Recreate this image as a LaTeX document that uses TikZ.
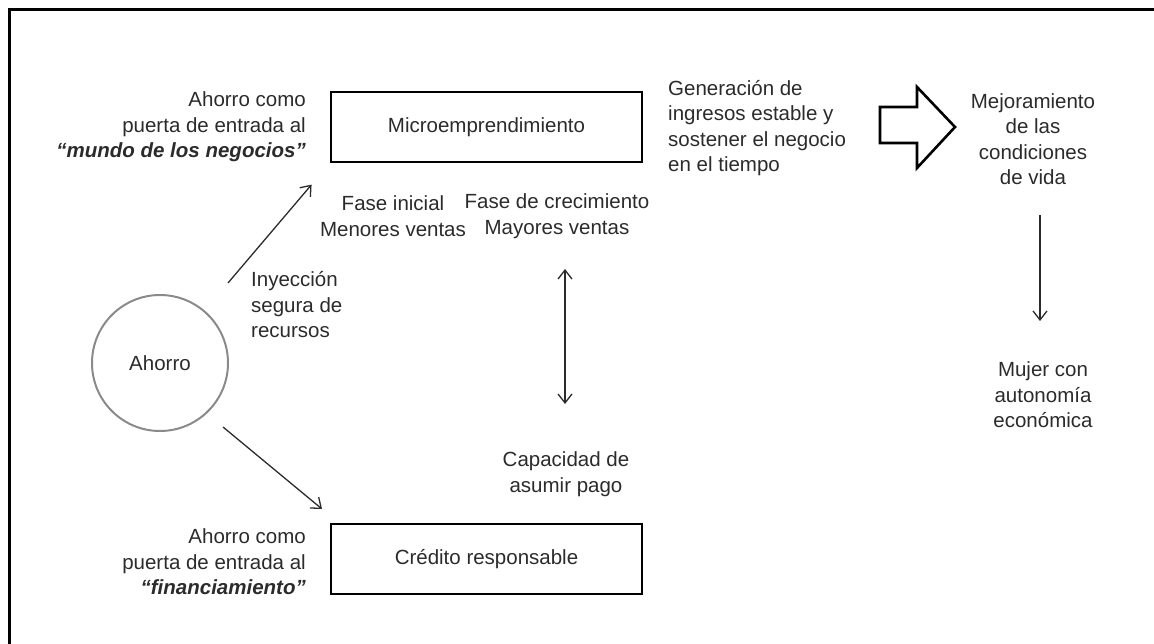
\documentclass[tikz,border=0pt]{standalone}
\usepackage{fontspec}
\setmainfont{Liberation Sans}
\usetikzlibrary{arrows.meta}
\definecolor{txt}{HTML}{2B2B2B}
\definecolor{circ}{HTML}{8A8A8A}
\tikzset{
  lbl/.style={inner sep=0pt, text=txt, font=\fontsize{20.5}{25.5}\selectfont},
  boxnode/.style={draw=black, line width=2.6pt, minimum width=311pt, minimum height=70pt, inner sep=0pt, text=txt, font=\fontsize{20.5}{25.5}\selectfont},
  arr/.style={line width=1.3pt, draw=txt, -{Straight Barb[length=9pt,width=14pt,line width=1.3pt]}},
  darr/.style={line width=1.3pt, draw=txt, {Straight Barb[length=9pt,width=14pt,line width=1.3pt]}-{Straight Barb[length=9pt,width=14pt,line width=1.3pt]}},
}
\begin{document}
\begin{tikzpicture}[x=1pt,y=-1pt]
\useasboundingbox (0,0) rectangle (1154,644);
% frame
\draw[line width=3pt, line cap=rect] (1160,10) -- (9.5,10) -- (9.5,650);
% boxes
\node[boxnode] (micro) at (486.5,127) {Microemprendimiento};
\node[boxnode] (cred) at (486.5,559) {Crédito responsable};
% circle
\node[circle, draw=circ, line width=2pt, minimum size=136pt, inner sep=0pt, text=txt, font=\fontsize{20.5}{25.5}\selectfont] (ahorro) at (160,363) {Ahorro};
% labels
\node[lbl, anchor=east, align=right] (lab1) at (306,127) {Ahorro como\\puerta de entrada al\\\textbf{\textit{“mundo de los negocios”}}};
\node[lbl, anchor=east, align=right] (lab2) at (306,562) {Ahorro como\\puerta de entrada al\\\textbf{\textit{“financiamiento”}}};
\node[lbl, align=center] (fase1) at (393,216) {Fase inicial\\Menores ventas};
\node[lbl, align=center] (fase2) at (557,216) {Fase de crecimiento\\Mayores ventas};
\node[lbl, anchor=west, align=left] (iny) at (251,305) {Inyección\\segura de\\recursos};
\node[lbl, align=center] (cap) at (566,474) {Capacidad de\\asumir pago};
\node[lbl, anchor=west, align=left] (gen) at (668,128) {Generación de\\ingresos estable y\\sostener el negocio\\en el tiempo};
\node[lbl, align=center] (mej) at (1033,139) {Mejoramiento\\de las\\condiciones\\de vida};
\node[lbl, align=center] (mujer) at (1043,395) {Mujer con\\autonomía\\económica};
% big arrow
\draw[line width=2.6pt, line join=miter] (880,107) -- (917,107) -- (917,87) -- (955,127) -- (917,168) -- (917,143) -- (880,143) -- cycle;
% connectors
\draw[arr, shorten <=36pt, shorten >=28pt] (ahorro) -- (micro.south west);
\coordinate (c1) at (223,427);
\coordinate (c2) at (322,509);
\draw[arr] (c1) -- (c2);
\coordinate (d1) at (565,269);
\coordinate (d2) at (565,404);
\draw[darr] (d1) -- (d2);
\coordinate (m1) at (1040,215);
\coordinate (m2) at (1040,321);
\draw[arr] (m1) -- (m2);
\end{tikzpicture}
\end{document}
